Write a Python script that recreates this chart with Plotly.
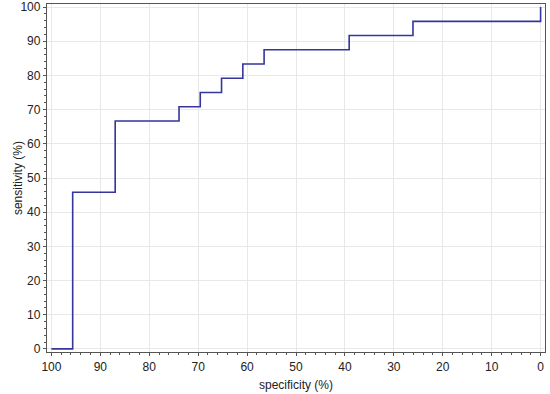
import plotly.graph_objects as go

# ROC step points (specificity %, sensitivity %)
specificity = [100, 95.65, 86.96, 73.91, 69.57, 65.22, 60.87, 56.52, 39.13, 26.09, 0]
sensitivity = [0, 45.83, 66.67, 70.83, 75.0, 79.17, 83.33, 87.5, 91.67, 95.83, 100]
x_ticks = [100, 90, 80, 70, 60, 50, 40, 30, 20, 10, 0]
y_ticks = [0, 10, 20, 30, 40, 50, 60, 70, 80, 90, 100]

# build step path: horizontal then vertical
xs, ys = [specificity[0]], [sensitivity[0]]
for i in range(1, len(specificity)):
    xs.append(specificity[i]); ys.append(sensitivity[i - 1])
    xs.append(specificity[i]); ys.append(sensitivity[i])

FONT = "Liberation Sans, Arial, sans-serif"

fig = go.Figure()
fig.add_trace(go.Scatter(x=xs, y=ys, mode="lines",
                         line=dict(color="#35359c", width=1.6),
                         showlegend=False, hoverinfo="skip"))

axis_common = dict(
    showgrid=True, gridcolor="#e8e8e8", gridwidth=1,
    showline=True, linecolor="#555555", linewidth=1.3, mirror=True,
    ticks="outside", ticklen=3, tickcolor="#555555",
    tickfont=dict(family=FONT, size=12, color="#222222"),
    zeroline=False, automargin=False,
)

fig.update_xaxes(
    range=[100.9, -0.9], tickvals=x_ticks, ticktext=[str(v) for v in x_ticks],
    minor=dict(dtick=2, ticks="outside", ticklen=2, tickcolor="#555555", showgrid=False),
    **axis_common,
)
fig.update_yaxes(
    range=[-0.9, 100.9], tickvals=y_ticks, ticktext=[str(v) for v in y_ticks],
    minor=dict(dtick=2, ticks="outside", ticklen=2, tickcolor="#555555", showgrid=False),
    **axis_common,
)

fig.add_annotation(text="specificity (%)", xref="paper", yref="paper",
                   x=0.5, y=-0.095, xanchor="center", yanchor="middle",
                   showarrow=False, font=dict(family=FONT, size=12, color="#222222"))
fig.add_annotation(text="sensitivity (%)", xref="paper", yref="paper",
                   x=-0.058, y=0.5, xanchor="center", yanchor="middle", textangle=-90,
                   showarrow=False, font=dict(family=FONT, size=12, color="#222222"))

fig.update_layout(
    width=550, height=394,
    margin=dict(l=47, r=5, t=4, b=42),
    plot_bgcolor="white", paper_bgcolor="white",
)

fig.write_html("out.html",
               config={"displayModeBar": False},
               post_script="document.body.style.margin='0';document.body.style.overflow='hidden';")
